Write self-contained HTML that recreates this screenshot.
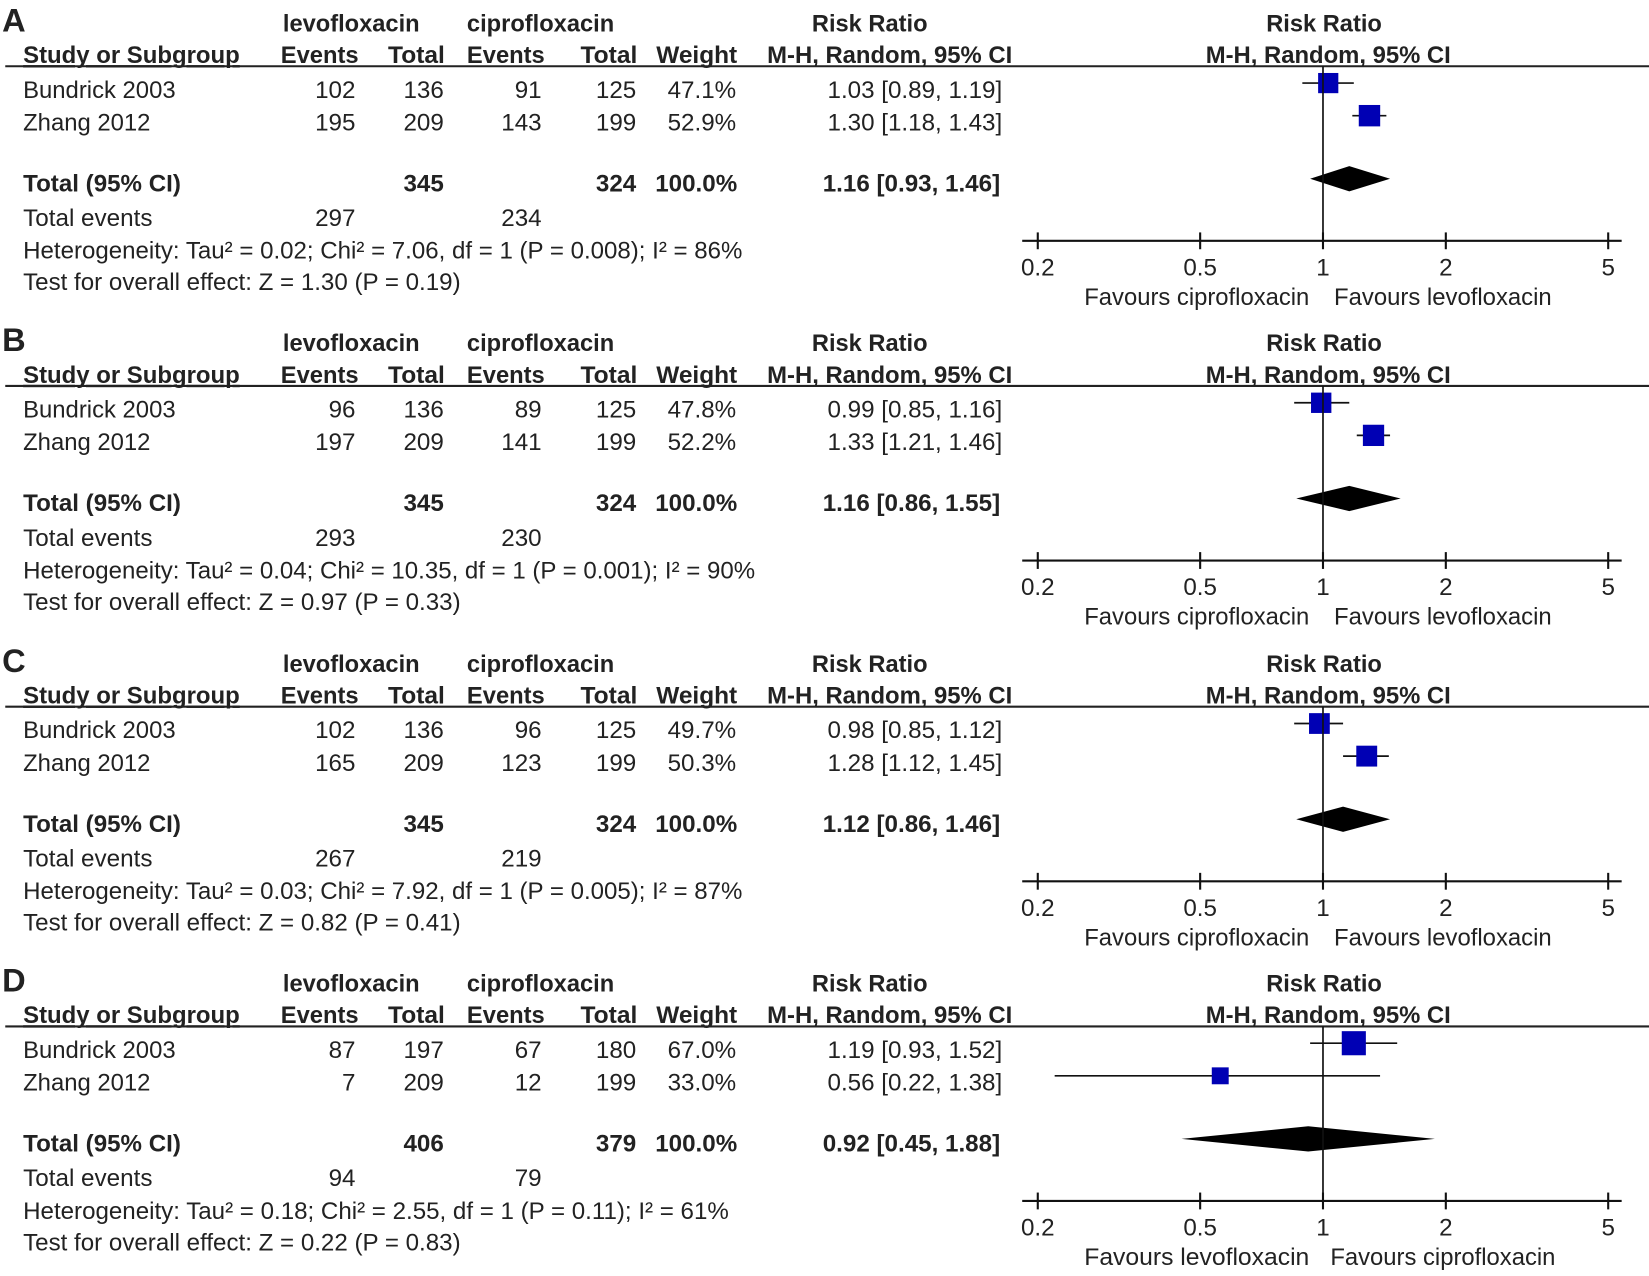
<!DOCTYPE html>
<html><head><meta charset="utf-8"><style>
html,body{margin:0;padding:0;background:#fff;}
svg text{font-family:"Liberation Sans",Arial,sans-serif;fill:#222;}
</style></head><body>
<svg id="fig" width="1649" height="1271" viewBox="0 0 1568 1208.6" preserveAspectRatio="none" xmlns="http://www.w3.org/2000/svg"></svg>
<script>
const panelLabels=["A","B","C","D"];
const studyNames=["Bundrick 2003","Zhang 2012"];
const levEvents=[[102,195],[96,197],[102,165],[87,7]];
const levTotal=[[136,209],[136,209],[136,209],[197,209]];
const cipEvents=[[91,143],[89,141],[96,123],[67,12]];
const cipTotal=[[125,199],[125,199],[125,199],[180,199]];
const weights=[[47.1,52.9],[47.8,52.2],[49.7,50.3],[67.0,33.0]];
const rr=[[1.03,1.30],[0.99,1.33],[0.98,1.28],[1.19,0.56]];
const lo=[[0.89,1.18],[0.85,1.21],[0.85,1.12],[0.93,0.22]];
const hi=[[1.19,1.43],[1.16,1.46],[1.12,1.45],[1.52,1.38]];
const totRR=[1.16,1.16,1.12,0.92];
const totLo=[0.93,0.86,0.86,0.45];
const totHi=[1.46,1.55,1.46,1.88];
const sumLev=[345,345,345,406];
const sumCip=[324,324,324,379];
const evLev=[297,293,267,94];
const evCip=[234,230,219,79];
const hetero=["Heterogeneity: Tau² = 0.02; Chi² = 7.06, df = 1 (P = 0.008); I² = 86%","Heterogeneity: Tau² = 0.04; Chi² = 10.35, df = 1 (P = 0.001); I² = 90%","Heterogeneity: Tau² = 0.03; Chi² = 7.92, df = 1 (P = 0.005); I² = 87%","Heterogeneity: Tau² = 0.18; Chi² = 2.55, df = 1 (P = 0.11); I² = 61%"];
const heteroW=[684,696,684,671];
const overall=["Test for overall effect: Z = 1.30 (P = 0.19)","Test for overall effect: Z = 0.97 (P = 0.33)","Test for overall effect: Z = 0.82 (P = 0.41)","Test for overall effect: Z = 0.22 (P = 0.83)"];
const favLeft=["Favours ciprofloxacin","Favours ciprofloxacin","Favours ciprofloxacin","Favours levofloxacin"];
const favRight=["Favours levofloxacin","Favours levofloxacin","Favours levofloxacin","Favours ciprofloxacin"];
const tickVals=[0.2,0.5,1,2,5];
const tickLabels=["0.2","0.5","1","2","5"];
const panelOffsets=[0,304,609,913];

const NS="http://www.w3.org/2000/svg";
const svg=document.getElementById('fig');
function xs(v){return 1258+Math.log10(v)*388;}
function mk(tag,attrs,parent){const e=document.createElementNS(NS,tag);for(const k in attrs)e.setAttribute(k,attrs[k]);(parent||svg).appendChild(e);return e;}
function txt(g,s,x,y,o){o=o||{};const t=mk('text',{x:x,y:y,'font-size':o.size||23,'text-anchor':o.anchor||'start','font-weight':o.bold?'bold':'normal'},g);if(o.w){t.setAttribute('textLength',o.w);t.setAttribute('lengthAdjust','spacingAndGlyphs');}if(o.u)t.setAttribute('text-decoration','underline');t.textContent=s;return t;}

panelLabels.forEach((L,p)=>{
  const oy=panelOffsets[p];
  const g=mk('g',{transform:'translate(0,'+oy+')'});
  
  
  const pl=txt(g,L,2,30,{size:31,bold:true});
  
  
  txt(g,"levofloxacin",334,30,{anchor:'middle',bold:true,w:130});
  txt(g,"ciprofloxacin",514,30,{anchor:'middle',bold:true,w:140});
  txt(g,"Risk Ratio",827,30,{anchor:'middle',bold:true,w:110});
  txt(g,"Risk Ratio",1259,30,{anchor:'middle',bold:true,w:110});
  txt(g,"Study or Subgroup",22,60,{bold:true,w:206,u:true});
  txt(g,"Events",341,60,{anchor:'end',bold:true,w:74});
  txt(g,"Total",423,60,{anchor:'end',bold:true,w:54});
  txt(g,"Events",518,60,{anchor:'end',bold:true,w:74});
  txt(g,"Total",606,60,{anchor:'end',bold:true,w:54});
  txt(g,"Weight",701,60,{anchor:'end',bold:true,w:77});
  txt(g,"M-H, Random, 95% CI",846,60,{anchor:'middle',bold:true,w:233});
  txt(g,"M-H, Random, 95% CI",1263,60,{anchor:'middle',bold:true,w:233});
  const hl=mk('line',{x1:5,x2:1568,y1:63,y2:63,stroke:'#222','stroke-width':2},g);
  
  
  const rowY=[93,124];
  const markY=[79,110];
  studyNames.forEach((n,i)=>{
    const y=rowY[i];
    txt(g,n,22,y,{w:n.length>11?145:121});
    txt(g,String(levEvents[p][i]),338,y,{anchor:'end'});
    txt(g,String(levTotal[p][i]),422,y,{anchor:'end'});
    txt(g,String(cipEvents[p][i]),515,y,{anchor:'end'});
    txt(g,String(cipTotal[p][i]),605,y,{anchor:'end'});
    txt(g,weights[p][i].toFixed(1)+"%",700,y,{anchor:'end'});
    txt(g,rr[p][i].toFixed(2)+" ["+lo[p][i].toFixed(2)+", "+hi[p][i].toFixed(2)+"]",953,y,{anchor:'end'});
    const ci=mk('line',{x1:xs(lo[p][i]),x2:xs(hi[p][i]),y1:markY[i],y2:markY[i],stroke:'#111','stroke-width':1.6},g);
    
    
    const s=28*Math.sqrt(weights[p][i]/100);
    const sq=mk('rect',{x:xs(rr[p][i])-s/2,y:markY[i]-s/2,width:s,height:s,fill:'#0000b4'},g);
    
    
  });
  txt(g,"Total (95% CI)",22,182,{bold:true,w:150});
  txt(g,String(sumLev[p]),422,182,{anchor:'end',bold:true});
  txt(g,String(sumCip[p]),605,182,{anchor:'end',bold:true});
  txt(g,"100.0%",701,182,{anchor:'end',bold:true});
  txt(g,totRR[p].toFixed(2)+" ["+totLo[p].toFixed(2)+", "+totHi[p].toFixed(2)+"]",951,182,{anchor:'end',bold:true});
  txt(g,"Total events",22,215,{w:123});
  txt(g,String(evLev[p]),338,215,{anchor:'end'});
  txt(g,String(evCip[p]),515,215,{anchor:'end'});
  txt(g,hetero[p],22,246,{w:heteroW[p]});
  txt(g,overall[p],22,276,{w:416});
  const dy=170;
  const dm=mk('polygon',{points:[xs(totLo[p])+','+dy, xs(totRR[p])+','+(dy-12), xs(totHi[p])+','+dy, xs(totRR[p])+','+(dy+12)].join(' '),fill:'#000'},g);
  
  
  const vl=mk('line',{x1:xs(1),x2:xs(1),y1:63,y2:229,stroke:'#111','stroke-width':1.6},g);
  
  
  const ax=mk('line',{x1:972,x2:1542,y1:229,y2:229,stroke:'#111','stroke-width':2},g);
  
  
  tickVals.forEach((v,k)=>{
    const tk=mk('line',{x1:xs(v),x2:xs(v),y1:221,y2:237,stroke:'#111','stroke-width':2},g);
    
    
    txt(g,tickLabels[k],xs(v),262,{anchor:'middle'});
  });
  txt(g,favLeft[p],1138,290,{anchor:'middle',w:214});
  txt(g,favRight[p],1372,290,{anchor:'middle',w:p==3?214:207});
});
</script>
</body></html>
